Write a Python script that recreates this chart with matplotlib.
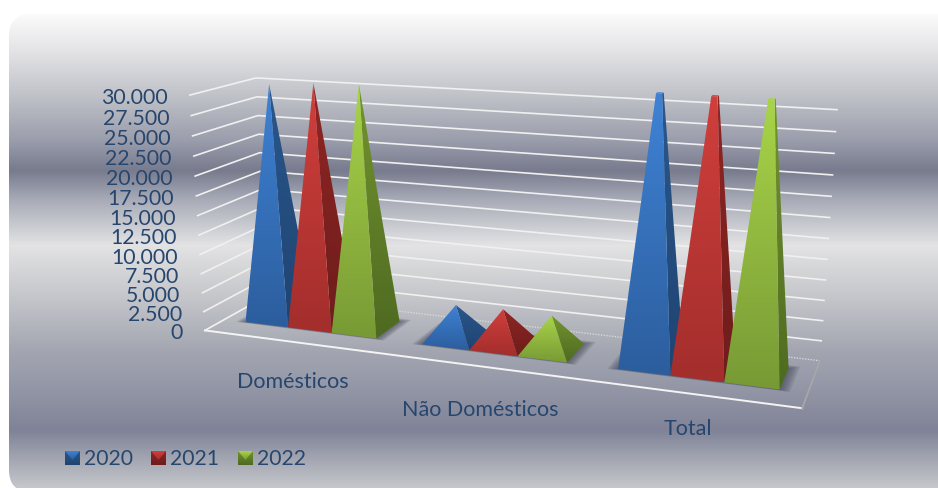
import numpy as np
import matplotlib
matplotlib.use('Agg')
import matplotlib.pyplot as plt
from matplotlib.colors import LinearSegmentedColormap, to_rgb
from matplotlib.patches import FancyBboxPatch, Polygon

plt.rcParams['font.family'] = ['Lato', 'DejaVu Sans']

categories = ['Domésticos', 'Não Domésticos', 'Total']
years = ['2020', '2021', '2022']
values_2020 = [30500, 4350, 36000]
values_2021 = [30950, 4500, 36000]
values_2022 = [31100, 4400, 36000]
y_ticks = [0, 2500, 5000, 7500, 10000, 12500, 15000, 17500, 20000, 22500, 25000, 27500, 30000]
y_max = 30000
# as pirâmides cortadas sobem um pouco acima da parede
y_cut = 32000

text_color = '#27466e'
# cor de frente (topo, base) e de lado (topo, base)
front_colors = [('#3f82d4', '#2c5e9e'), ('#d03f3c', '#a32e2c'), ('#a8d449', '#789a35')]
side_colors = [('#2a578c', '#1f4472'), ('#8f2624', '#6e1d1b'), ('#73942f', '#4e6a21')]

# fundo: gradiente vertical
bg_y = [14, 50, 100, 140, 170, 200, 245, 300, 350, 400, 430, 460, 492]
bg_c = ['#fbfbfb', '#e4e4e6', '#bcbec5', '#9a9dab', '#777b8d', '#a9acb8', '#e3e3e4',
        '#c3c4c9', '#a3a6b1', '#8e91a2', '#7f8397', '#a5a8b3', '#cbccd0']

fig = plt.figure(figsize=(9.38, 4.88), dpi=100)
ax = fig.add_axes([0, 0, 1, 1])
ax.axis('off')


def vgradient(top, bottom, bbox, clip, z):
    cmap = LinearSegmentedColormap.from_list('g', [top, bottom])
    im = ax.imshow(np.linspace(0, 1, 64).reshape(-1, 1), cmap=cmap, aspect='auto',
                   extent=bbox, zorder=z, interpolation='bilinear')
    im.set_clip_path(clip)
    return im


def face(pts, colors, z):
    pts = np.array(pts)
    poly = Polygon(pts, closed=True, fc='none', ec='none', zorder=z)
    ax.add_patch(poly)
    x0, x1 = pts[:, 0].min(), pts[:, 0].max()
    y0, y1 = pts[:, 1].min(), pts[:, 1].max()
    vgradient(colors[0], colors[1], (x0, x1, y1, y0), poly, z)


# fundo com cantos redondos
box = FancyBboxPatch((29, 34), 960, 438, boxstyle='round,pad=20,rounding_size=22', fc='none', ec='none')
ax.add_patch(box)
rgb = np.array([to_rgb(c) for c in bg_c])
yy = np.arange(0, 500)
grad = np.stack([np.interp(yy, bg_y, rgb[:, i]) for i in range(3)], axis=1)[:, None, :]
bg = ax.imshow(grad, aspect='auto', extent=(0, 1000, 500, 0), zorder=0)
bg.set_clip_path(box)

# projeção: caixa do gráfico (u, v, w) para pixels
world = np.array([[0, 0, 0], [0, 0, 1], [0, 1, 1], [0, 1, 0], [1, 1, 0], [1, 1, 1], [1, 0, 0], [1, 0, 1]], float)
pixel = np.array([[205, 331], [190, 95], [256, 78], [267, 295], [820, 361], [837, 110], [802, 408], [820, 133]], float)
rows = []
for (a, b, c), (px, py) in zip(world, pixel):
    rows.append([a, b, c, 1, 0, 0, 0, 0, -px * a, -px * b, -px * c, -px])
    rows.append([0, 0, 0, 0, a, b, c, 1, -py * a, -py * b, -py * c, -py])
P = np.linalg.svd(np.array(rows))[2][-1].reshape(3, 4)


def project(u, v, value):
    h = P @ np.array([u / 3, v, value / y_max, 1.0])
    return h[:2] / h[2]


# paredes e chão
for t in y_ticks:
    a, b, c = project(0, 0, t), project(0, 1, t), project(3, 1, t)
    if t == 0:
        ax.plot([a[0], b[0]], [a[1], b[1]], color='#f2f2f2', lw=1.2, zorder=1)
        ax.plot([b[0], c[0]], [b[1], c[1]], color='#d8d8d8', lw=1, ls=(0, (1, 1)), zorder=1)
    else:
        ax.plot([a[0], b[0], c[0]], [a[1], b[1], c[1]], color='#f0f0f0', lw=1.2, zorder=1)
    ax.text(a[0] - 22, a[1] + 3, f'{t:,}'.replace(',', '.'), ha='right', va='center',
            fontsize=15.3, color=text_color, zorder=20)
a, b, c = project(0, 0, 0), project(3, 0, 0), project(3, 1, 0)
ax.plot([a[0], b[0]], [a[1], b[1]], color='#f4f4f4', lw=1.4, zorder=1)
ax.plot([b[0], c[0]], [b[1], c[1]], color='#a8a8a8', lw=1.2, zorder=1)

# pirâmides
series = [values_2020, values_2021, values_2022]
group_left = [0.125, 1.125, 2.125]
group_w = [0.75, 0.75, 0.75]
v0, v1 = 0.3, 0.75
z = 3
for i in range(len(categories)):
    left = group_left[i]
    width = group_w[i]
    w = width / 3
    # sombra no chão
    for k in range(6):
        e = 0.008 * (6 - k)
        corners = [project(left - e, v0 - e * 0.5, 0), project(left + width + e, v0 - e * 0.5, 0),
                   project(left + width + e, v1 + e * 1.5, 0), project(left - e, v1 + e * 1.5, 0)]
        ax.add_patch(Polygon(corners, closed=True, fc='#3d4052', ec='none', alpha=0.13, zorder=2))
    for s in range(3):
        val = series[s][i]
        x0, x1 = left + s * w, left + (s + 1) * w
        xc, vc = (x0 + x1) / 2, (v0 + v1) / 2
        # corte no topo
        t = min(y_cut / val, 1.0)
        h = min(val, y_cut)
        tx0, tx1 = x0 + (xc - x0) * t, x1 + (xc - x1) * t
        tv0, tv1 = v0 + (vc - v0) * t, v1 + (vc - v1) * t
        side = [project(x1, v0, 0), project(x1, v1, 0), project(tx1, tv1, h), project(tx1, tv0, h)]
        front = [project(x0, v0, 0), project(x1, v0, 0), project(tx1, tv0, h), project(tx0, tv0, h)]
        face(side, side_colors[s], z)
        face(front, front_colors[s], z + 1)
        if t < 1:
            top = [project(tx0, tv0, h), project(tx1, tv0, h), project(tx1, tv1, h), project(tx0, tv1, h)]
            ax.add_patch(Polygon(top, closed=True, fc=front_colors[s][0], ec='none', zorder=z + 2))
        z += 3

# nomes das categorias
ax.text(293, 382, categories[0], ha='center', va='center', fontsize=15.5, color=text_color)
ax.text(480, 410, categories[1], ha='center', va='center', fontsize=15.5, color=text_color)
ax.text(688, 429, categories[2], ha='center', va='center', fontsize=15.5, color=text_color)

# legenda
for s, lx in enumerate([65, 151, 238]):
    sq = [(lx, 451), (lx + 15, 451), (lx + 15, 465), (lx, 465)]
    face(sq, side_colors[s], 5)
    face([(lx, 451), (lx + 15, 451), (lx + 7.5, 460)], (front_colors[s][0], front_colors[s][1]), 6)
    ax.text(lx + 19, 459, years[s], ha='left', va='center', fontsize=15.2, color=text_color)

ax.set_xlim(0, 938)
ax.set_ylim(488, 0)
fig.savefig('out.png', dpi=100, facecolor='white')
